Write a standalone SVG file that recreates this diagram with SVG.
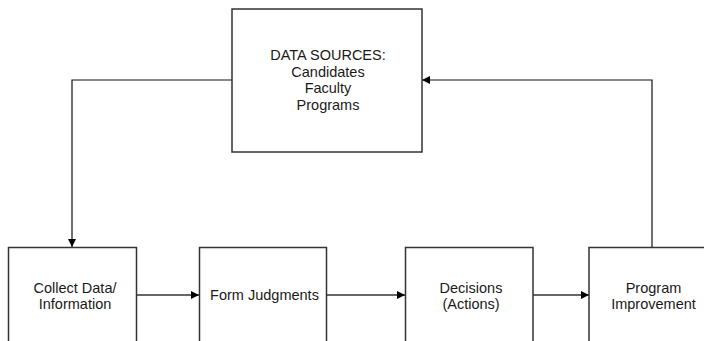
<svg xmlns="http://www.w3.org/2000/svg" width="704" height="341" viewBox="0 0 704 341">
<style>
.box{fill:#fff;stroke:#333;stroke-width:1.5}
.t{font-family:"Liberation Sans",Arial,sans-serif;font-size:14.5px;fill:#1a1a1a;text-anchor:middle}
.c{fill:none;stroke:#111;stroke-width:1.2}
.h{fill:none;stroke:#666;stroke-width:2}
</style>
<defs>
<marker id="ah" viewBox="0 0 10 10" refX="10" refY="5" markerWidth="9" markerHeight="8" markerUnits="userSpaceOnUse" orient="auto">
<path d="M0,0 L10,5 L0,10 Z" fill="#000"/>
</marker>
</defs>
<rect width="704" height="341" fill="#fff"/>
<g id="connectors">
<path class="c" d="M232,80 H72 V247" marker-end="url(#ah)"/>
<path class="c" d="M652,247 V80 H422" marker-end="url(#ah)"/>
<path class="h" d="M136,295 H199" marker-end="url(#ah)"/>
<path class="h" d="M326,295 H405" marker-end="url(#ah)"/>
<path class="h" d="M533,295 H589" marker-end="url(#ah)"/>
</g>
<g id="data-sources">
<rect class="box" x="232" y="9" width="190" height="143"/>
<text class="t" x="328" y="60">DATA SOURCES:</text>
<text class="t" x="328" y="76.5">Candidates</text>
<text class="t" x="328" y="93">Faculty</text>
<text class="t" x="328" y="109.5">Programs</text>
</g>
<g id="collect">
<rect class="box" x="8.5" y="247.5" width="128" height="100"/>
<text class="t" x="75" y="292.5">Collect Data/</text>
<text class="t" x="75" y="309">Information</text>
</g>
<g id="form">
<rect class="box" x="199.5" y="247.5" width="127" height="100"/>
<text class="t" x="264.5" y="299.5">Form Judgments</text>
</g>
<g id="decisions">
<rect class="box" x="405.5" y="247.5" width="127.5" height="100"/>
<text class="t" x="471" y="292.5">Decisions</text>
<text class="t" x="471" y="309">(Actions)</text>
</g>
<g id="improvement">
<rect class="box" x="589" y="247.5" width="128" height="100"/>
<text class="t" x="653.5" y="292.5">Program</text>
<text class="t" x="653.5" y="309">Improvement</text>
</g>
</svg>
